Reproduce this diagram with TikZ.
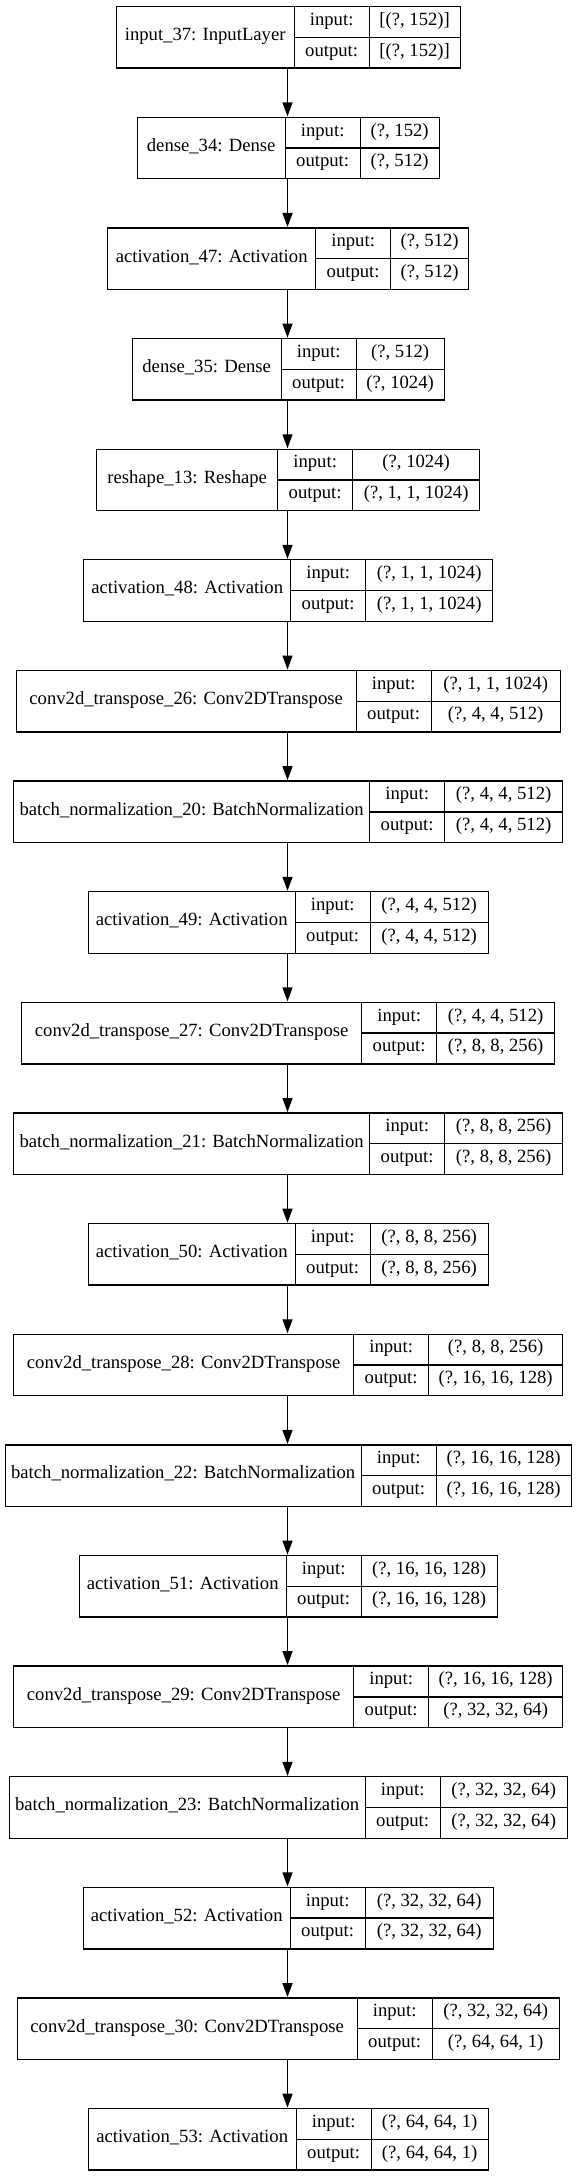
\documentclass[tikz,border=0pt]{standalone}
\usepackage{fontspec}
\setmainfont{Liberation Serif}
\usetikzlibrary{arrows.meta}

\begin{document}
\begin{tikzpicture}[x=0.75pt,y=-0.75pt,font=\fontsize{14}{17}\selectfont,
  lay/.style={inner sep=0pt,minimum height=46.125pt},
  cell/.style={draw,line width=1pt,inner sep=0pt,anchor=north west,minimum height=23.0625pt,text height=0.72em,text depth=0.22em},
  io/.style={cell,minimum width=56.25pt},
  flow/.style={-{Triangle[length=10.5pt,width=7.5pt]},line width=1pt}]
  \useasboundingbox (0,0) rectangle (575,2176);
  \foreach \i/\lname/\inp/\outp/\wa/\wc in {
    0/{input\_37: InputLayer}/{[(?, 152)]}/{[(?, 152)]}/178/91,
    1/{dense\_34: Dense}/{(?, 152)}/{(?, 512)}/148/79,
    2/{activation\_47: Activation}/{(?, 512)}/{(?, 512)}/208/78,
    3/{dense\_35: Dense}/{(?, 512)}/{(?, 1024)}/149/88,
    4/{reshape\_13: Reshape}/{(?, 1024)}/{(?, 1, 1, 1024)}/181/127,
    5/{activation\_48: Activation}/{(?, 1, 1, 1024)}/{(?, 1, 1, 1024)}/207/127,
    6/{conv2d\_transpose\_26: Conv2DTranspose}/{(?, 1, 1, 1024)}/{(?, 4, 4, 512)}/340/129,
    7/{batch\_normalization\_20: BatchNormalization}/{(?, 4, 4, 512)}/{(?, 4, 4, 512)}/356/118,
    8/{activation\_49: Activation}/{(?, 4, 4, 512)}/{(?, 4, 4, 512)}/207/118,
    9/{conv2d\_transpose\_27: Conv2DTranspose}/{(?, 4, 4, 512)}/{(?, 8, 8, 256)}/340/118,
    10/{batch\_normalization\_21: BatchNormalization}/{(?, 8, 8, 256)}/{(?, 8, 8, 256)}/356/118,
    11/{activation\_50: Activation}/{(?, 8, 8, 256)}/{(?, 8, 8, 256)}/207/118,
    12/{conv2d\_transpose\_28: Conv2DTranspose}/{(?, 8, 8, 256)}/{(?, 16, 16, 128)}/340/134,
    13/{batch\_normalization\_22: BatchNormalization}/{(?, 16, 16, 128)}/{(?, 16, 16, 128)}/356/135,
    14/{activation\_51: Activation}/{(?, 16, 16, 128)}/{(?, 16, 16, 128)}/207/136,
    15/{conv2d\_transpose\_29: Conv2DTranspose}/{(?, 16, 16, 128)}/{(?, 32, 32, 64)}/340/134,
    16/{batch\_normalization\_23: BatchNormalization}/{(?, 32, 32, 64)}/{(?, 32, 32, 64)}/356/127,
    17/{activation\_52: Activation}/{(?, 32, 32, 64)}/{(?, 32, 32, 64)}/207/128,
    18/{conv2d\_transpose\_30: Conv2DTranspose}/{(?, 32, 32, 64)}/{(?, 64, 64, 1)}/340/127,
    19/{activation\_53: Activation}/{(?, 64, 64, 1)}/{(?, 64, 64, 1)}/208/117}{
    \pgfmathsetmacro\tw{\wa+75+\wc}
    \pgfmathsetmacro\xl{287.5-\tw/2}
    \pgfmathsetmacro\yt{6+110.63*\i}
    \node[lay,minimum width=\tw*0.75pt] (L\i) at (287.5,\yt+30.75) {};
    \node[cell,minimum width=\wa*0.75pt,minimum height=46.125pt] (N\i) at (\xl,\yt) {\lname};
    \node[io] (I\i) at (\xl+\wa,\yt) {input:};
    \node[io] (O\i) at (\xl+\wa,\yt+30.75) {output:};
    \node[cell,minimum width=\wc*0.75pt] (IV\i) at (\xl+\wa+75,\yt) {\inp};
    \node[cell,minimum width=\wc*0.75pt] (OV\i) at (\xl+\wa+75,\yt+30.75) {\outp};
  }
  \foreach \i [evaluate=\i as \j using int(\i+1)] in {0,...,18}
    \draw[flow] (L\i) -- (L\j);
\end{tikzpicture}
\end{document}
